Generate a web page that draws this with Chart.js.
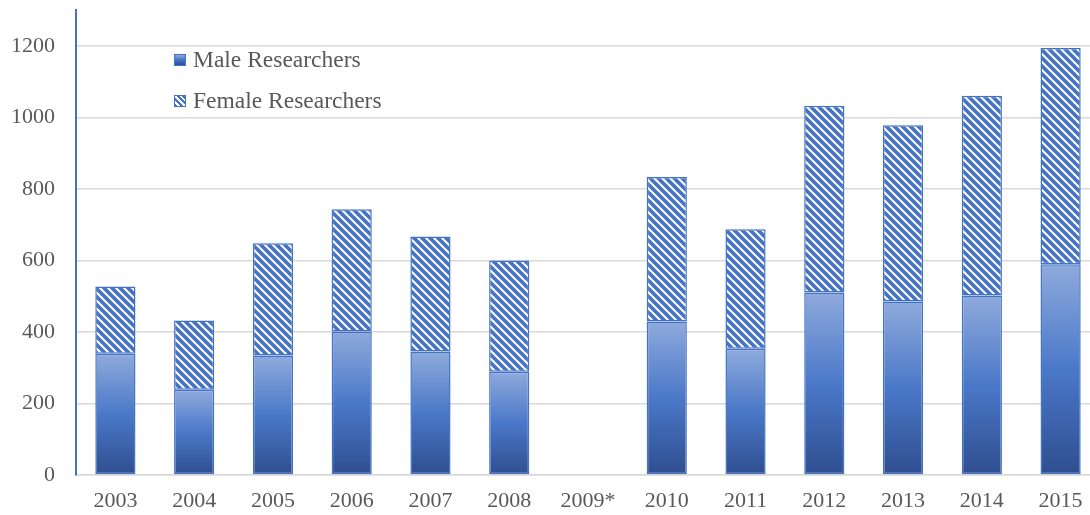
<!DOCTYPE html>
<html>
<head>
<meta charset="utf-8">
<script src="https://cdn.jsdelivr.net/npm/chart.js@4"></script>
<style>
  html, body { margin: 0; padding: 0; background: #fff; overflow: hidden; }
  #wrap { position: relative; width: 1100px; height: 515px; }
  #legend { position: absolute; left: 174px; top: 44px; font-family: "Liberation Serif", serif; font-size: 23.5px; color: #595959; }
  #legend div { height: 41px; line-height: 30px; white-space: nowrap; }
  .sw { display: inline-block; width: 12px; height: 12px; margin-right: 7px; vertical-align: 1px; border: 1px solid #4472c4; box-sizing: border-box; }
  .sw.male { background: linear-gradient(#8faadc, #4472c4 50%, #2f4e8f); }
  .sw.female { background: repeating-linear-gradient(45deg, #4472c4 0 2px, #fff 2px 4px); }
</style>
</head>
<body>
<div id="wrap">
  <canvas id="chart" width="1100" height="515"></canvas>
  <div id="legend">
    <div><span class="sw male"></span>Male Researchers</div>
    <div><span class="sw female"></span>Female Researchers</div>
  </div>
</div>
<script>
"use strict";

const years = ["2003", "2004", "2005", "2006", "2007", "2008", "2009*", "2010", "2011", "2012", "2013", "2014", "2015"];
const maleValues = [339, 238, 334, 401, 345, 289, null, 429, 353, 510, 485, 502, 589];
const femaleValues = [188, 194, 314, 342, 322, 311, null, 404, 334, 522, 493, 558, 605];

const blue = "#4472c4";
const tickFont = { family: "Liberation Serif", size: 22 };

function makeStripes() {
  const c = document.createElement("canvas");
  c.width = 8;
  c.height = 8;
  const g = c.getContext("2d");
  g.fillStyle = "#fff";
  g.fillRect(0, 0, 8, 8);
  g.strokeStyle = blue;
  g.lineWidth = 3.6;
  g.beginPath();
  g.moveTo(-4, -4); g.lineTo(12, 12);
  g.moveTo(-4, 4); g.lineTo(4, 12);
  g.moveTo(4, -4); g.lineTo(12, 4);
  g.stroke();
  return g.createPattern(c, "repeat");
}

const canvas = document.getElementById("chart");
const stripes = makeStripes();

function maleFill(context) {
  const chart = context.chart;
  const yScale = chart.scales.y;
  if (!chart.chartArea || !yScale || context.raw == null) {
    return blue;
  }
  const top = yScale.getPixelForValue(context.raw);
  const base = yScale.getPixelForValue(0);
  const grad = chart.ctx.createLinearGradient(0, top, 0, base);
  grad.addColorStop(0, "#8faadc");
  grad.addColorStop(0.5, "#4a78c8");
  grad.addColorStop(1, "#2f4e8f");
  return grad;
}

const chartConfig = {
  type: "bar",
  data: {
    labels: years,
    datasets: [
      {
        label: "Male Researchers",
        data: maleValues,
        backgroundColor: maleFill,
        borderColor: blue,
        borderWidth: 1.5,
        borderSkipped: false,
      },
      {
        label: "Female Researchers",
        data: femaleValues,
        backgroundColor: stripes,
        borderColor: blue,
        borderWidth: 1.5,
        borderSkipped: false,
      },
    ],
  },
  options: {
    responsive: false,
    animation: false,
    devicePixelRatio: 1,
    layout: { padding: { top: 10, right: 0, left: 0, bottom: 0 } },
    datasets: {
      bar: { categoryPercentage: 1, barPercentage: 0.51 },
    },
    plugins: {
      legend: { display: false },
      tooltip: { enabled: false },
    },
    scales: {
      x: {
        stacked: true,
        grid: { display: false, drawTicks: false },
        border: { display: true, color: "#d9d9d9", width: 1.5 },
        ticks: { font: tickFont, color: "#595959", padding: 13, maxRotation: 0, autoSkip: false },
        afterFit: function (scale) {
          scale.height = 40;
          scale.paddingLeft = 0;
          scale.paddingRight = 0;
        },
      },
      y: {
        stacked: true,
        min: 0,
        max: 1300,
        grid: { color: "#d9d9d9", lineWidth: 1.5, drawTicks: false },
        border: { display: true, color: blue, width: 2 },
        ticks: {
          stepSize: 200,
          includeBounds: false,
          font: tickFont,
          color: "#595959",
          padding: 21,
          callback: function (value) { return String(value); },
        },
        afterFit: function (scale) {
          scale.width = 76;
          scale.paddingTop = 0;
          scale.paddingBottom = 0;
        },
      },
    },
  },
};

const myChart = new Chart(canvas.getContext("2d"), chartConfig);
myChart.update();
</script>
</body>
</html>
